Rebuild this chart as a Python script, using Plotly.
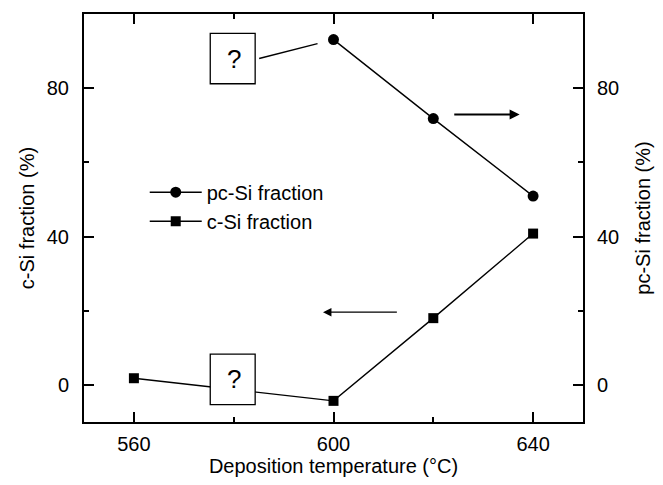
import plotly.graph_objects as go

temps_c = [560, 600, 620, 640]
c_si = [1.8, -4.3, 18.0, 40.8]
temps_pc = [600, 620, 640]
pc_si = [93.1, 71.8, 50.9]

x_ticks = [560, 600, 640]
y_ticks = [0, 40, 80]

FONT = "Liberation Sans, Arial, Helvetica, sans-serif"

fig = go.Figure()
fig.add_trace(go.Scatter(x=temps_pc, y=pc_si, mode="lines+markers", name="pc-Si fraction",
                         line=dict(color="black", width=1.4),
                         marker=dict(symbol="circle", size=11, color="black"), yaxis="y2"))
fig.add_trace(go.Scatter(x=temps_c, y=c_si, mode="lines+markers", name="c-Si fraction",
                         line=dict(color="black", width=1.4),
                         marker=dict(symbol="square", size=10, color="black")))

# "?" boxes
for yc in (88.0, 1.5):
    fig.add_shape(type="rect", x0=575.3, x1=584.3, y0=yc - 6.8, y1=yc + 6.8,
                  xref="x", yref="y", line=dict(color="black", width=1.3),
                  fillcolor="white", layer="above")
    fig.add_annotation(x=580, y=yc, text="?", showarrow=False, xref="x", yref="y",
                       font=dict(size=26, family=FONT, color="black"))
fig.add_shape(type="line", x0=585.1, y0=88.0, x1=596.8, y1=92.0, xref="x", yref="y",
              line=dict(color="black", width=1.4))

# axis-indicating arrows
fig.add_annotation(x=637.3, y=72.9, ax=623.9, ay=72.9, xref="x", yref="y", axref="x", ayref="y",
                   text="", showarrow=True, arrowhead=2, arrowsize=1.0, arrowwidth=2, arrowcolor="black")
fig.add_annotation(x=597.9, y=19.6, ax=613.0, ay=19.6, xref="x", yref="y", axref="x", ayref="y",
                   text="", showarrow=True, arrowhead=2, arrowsize=1.4, arrowwidth=1.2, arrowcolor="black")

axis_common = dict(ticks="inside", ticklen=10, tickwidth=1.5, tickcolor="black",
                   showline=True, linecolor="black", linewidth=2, showgrid=False, zeroline=False,
                   tickfont=dict(size=20, family=FONT, color="black"))

fig.update_layout(
    width=663, height=485,
    margin=dict(l=84, r=74, t=13, b=60),
    paper_bgcolor="white", plot_bgcolor="white",
    font=dict(family=FONT, color="black"),
    xaxis=dict(range=[550, 650], tickvals=x_ticks, mirror="ticks",
               minor=dict(tickvals=[580, 620], ticks="inside", ticklen=5, tickcolor="black", tickwidth=1.5),
               title=dict(text="Deposition temperature (°C)", font=dict(size=20, family=FONT), standoff=4),
               ticklabelstandoff=3, **axis_common),
    yaxis=dict(range=[-10, 100], tickvals=y_ticks,
               minor=dict(tickvals=[20, 60], ticks="inside", ticklen=5, tickcolor="black", tickwidth=1.5),
               title=dict(text="c-Si fraction (%)", font=dict(size=20, family=FONT), standoff=7),
               ticklabelstandoff=9, **axis_common),
    yaxis2=dict(range=[-10, 100], tickvals=y_ticks, overlaying="y", side="right",
                minor=dict(tickvals=[20, 60], ticks="inside", ticklen=5, tickcolor="black", tickwidth=1.5),
                title=dict(text="pc-Si fraction (%)", font=dict(size=20, family=FONT), standoff=18),
                ticklabelstandoff=8, **axis_common),
    legend=dict(x=0.1217, y=0.611, xanchor="left", yanchor="top", itemwidth=52,
                bgcolor="rgba(0,0,0,0)", font=dict(size=20, family=FONT, color="black"),
                tracegroupgap=0),
    showlegend=True,
)

fig.write_html("out.html")
